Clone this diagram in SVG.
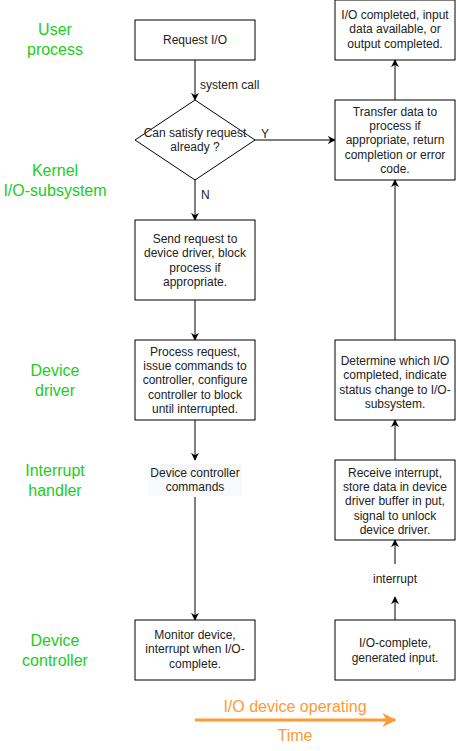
<svg xmlns="http://www.w3.org/2000/svg" width="456" height="751" viewBox="0 0 456 751">
<defs>
<marker id="ah" viewBox="0 0 10 10" refX="9" refY="5" markerWidth="8" markerHeight="8" markerUnits="userSpaceOnUse" orient="auto">
<path d="M0,0 L10,5 L0,10 L3,5 Z" fill="#000"/>
</marker>
<marker id="oh" viewBox="0 0 10 10" refX="9" refY="5" markerWidth="14" markerHeight="14" markerUnits="userSpaceOnUse" orient="auto">
<path d="M0,0 L10,5 L0,10 L3,5 Z" fill="#FF9933"/>
</marker>
<style>
.box{fill:#fff;stroke:#000;stroke-width:1}
.t{font-family:"Liberation Sans",Arial,sans-serif;font-size:12px;fill:#222;text-anchor:middle}
.g{font-family:"Liberation Sans",Arial,sans-serif;font-size:16px;fill:#22CC22;text-anchor:middle}
.o{font-family:"Liberation Sans",Arial,sans-serif;font-size:16px;fill:#FF9933;text-anchor:middle}
.e{stroke:#000;stroke-width:1;fill:none;marker-end:url(#ah)}
</style>
</defs>
<rect width="456" height="751" fill="#fff"/>
<g id="lanes">
<text class="g" x="55" y="35">User</text>
<text class="g" x="55" y="55">process</text>
<text class="g" x="55" y="176">Kernel</text>
<text class="g" x="55" y="196">I/O-subsystem</text>
<text class="g" x="55" y="376">Device</text>
<text class="g" x="55" y="396">driver</text>
<text class="g" x="55" y="476">Interrupt</text>
<text class="g" x="55" y="496">handler</text>
<text class="g" x="55" y="646">Device</text>
<text class="g" x="55" y="666">controller</text>
</g>
<g id="connectors">
<path class="e" d="M195,60 L195,100"/>
<path class="e" d="M255,140 L335,140"/>
<path class="e" d="M195,180 L195,220"/>
<path class="e" d="M195,300 L195,340"/>
<path class="e" d="M195,420 L195,460"/>
<path class="e" d="M195,497 L195,620"/>
<path class="e" d="M395,620 L395,597"/>
<path class="e" d="M395,564 L395,540"/>
<path class="e" d="M395,460 L395,420"/>
<path class="e" d="M395,340 L395,180"/>
<path class="e" d="M395,100 L395,60"/>
<text class="t" x="200" y="89" text-anchor="start" style="text-anchor:start">system call</text>
<text class="t" x="261" y="138" style="text-anchor:start">Y</text>
<text class="t" x="201" y="199" style="text-anchor:start">N</text>
</g>
<g id="n-request">
<rect class="box" x="135" y="20" width="120" height="40"/>
<text class="t" x="195" y="44">Request I/O</text>
</g>
<g id="n-decision">
<path class="box" d="M195,100 L255,140 L195,180 L135,140 Z"/>
<text class="t" x="195" y="137">Can satisfy request</text>
<text class="t" x="195" y="151">already ?</text>
</g>
<g id="n-send">
<rect class="box" x="135" y="220" width="120" height="80"/>
<text class="t" x="195" y="243">Send request to</text>
<text class="t" x="195" y="257">device driver, block</text>
<text class="t" x="195" y="272">process if</text>
<text class="t" x="195" y="286">appropriate.</text>
</g>
<g id="n-process">
<rect class="box" x="135" y="340" width="120" height="80"/>
<text class="t" x="195" y="356">Process request,</text>
<text class="t" x="195" y="370">issue commands to</text>
<text class="t" x="195" y="384">controller, configure</text>
<text class="t" x="195" y="399">controller to block</text>
<text class="t" x="195" y="413">until interrupted.</text>
</g>
<g id="n-commands">
<rect x="148" y="464" width="94" height="32" fill="#f8f9fa"/>
<text class="t" x="195" y="477">Device controller</text>
<text class="t" x="195" y="491">commands</text>
</g>
<g id="n-monitor">
<rect class="box" x="135" y="620" width="120" height="60"/>
<text class="t" x="195" y="639">Monitor device,</text>
<text class="t" x="195" y="653">interrupt when I/O-</text>
<text class="t" x="195" y="668">complete.</text>
</g>
<g id="n-iocomplete">
<rect class="box" x="335" y="620" width="120" height="60"/>
<text class="t" x="395" y="647">I/O-complete,</text>
<text class="t" x="395" y="662">generated input.</text>
</g>
<g id="n-interrupt">
<text class="t" x="395" y="583">interrupt</text>
</g>
<g id="n-receive">
<rect class="box" x="335" y="460" width="120" height="80"/>
<text class="t" x="395" y="477">Receive interrupt,</text>
<text class="t" x="395" y="491">store data in device</text>
<text class="t" x="395" y="505">driver buffer in put,</text>
<text class="t" x="395" y="520">signal to unlock</text>
<text class="t" x="395" y="534">device driver.</text>
</g>
<g id="n-determine">
<rect class="box" x="335" y="340" width="120" height="80"/>
<text class="t" x="395" y="365">Determine which I/O</text>
<text class="t" x="395" y="379">completed, indicate</text>
<text class="t" x="395" y="394">status change to I/O-</text>
<text class="t" x="395" y="408">subsystem.</text>
</g>
<g id="n-transfer">
<rect class="box" x="335" y="100" width="120" height="80"/>
<text class="t" x="395" y="116">Transfer data to</text>
<text class="t" x="395" y="130">process if</text>
<text class="t" x="395" y="144">appropriate, return</text>
<text class="t" x="395" y="159">completion or error</text>
<text class="t" x="395" y="173">code.</text>
</g>
<g id="n-completed">
<rect class="box" x="335" y="0" width="120" height="60"/>
<text class="t" x="395" y="19">I/O completed, input</text>
<text class="t" x="395" y="33">data available, or</text>
<text class="t" x="395" y="48">output completed.</text>
</g>
<g id="timeline">
<path d="M195,720 L395,720" stroke="#FF9933" stroke-width="3" fill="none" marker-end="url(#oh)"/>
<text class="o" x="295" y="712">I/O device operating</text>
<text class="o" x="295" y="741">Time</text>
</g>
</svg>
